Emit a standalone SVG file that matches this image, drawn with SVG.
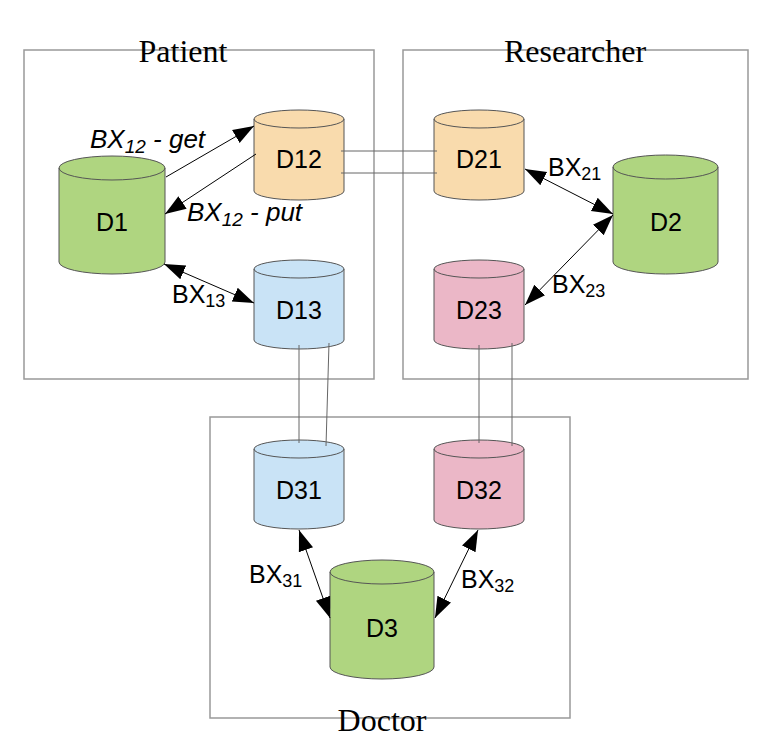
<svg xmlns="http://www.w3.org/2000/svg" width="782" height="748" viewBox="0 0 782 748">
<style>
.box{fill:none;stroke:#999;stroke-width:1.5}
.title{font-family:"Liberation Serif",serif;font-size:32px;fill:#000;text-anchor:middle}
.cyl{stroke:#555;stroke-width:1}
.rim{stroke:#555;stroke-width:1;fill:none}
.green{fill:#afd580}.orange{fill:#f9dbad}.blue{fill:#c9e3f6}.pink{fill:#ebb7c7}
.lbl{font-family:"Liberation Sans",Arial,sans-serif;font-size:25px;fill:#000;text-anchor:middle}
.bx{font-family:"Liberation Sans",Arial,sans-serif;font-size:25px;fill:#000}
.it{font-style:italic;font-size:26px}
.sub{font-size:18px}
.it .sub{font-size:19px}
.link{stroke:#666;stroke-width:1;fill:none}
.arr{stroke:#000;stroke-width:1;fill:none}
</style>
<defs>
<marker id="ah" markerUnits="userSpaceOnUse" markerWidth="22" markerHeight="18" viewBox="0 0 22 18" refX="21" refY="9" orient="auto-start-reverse">
<path d="M0,1.5 L21,9 L0,16.5 z" fill="#000"/>
</marker>
</defs>
<rect width="782" height="748" fill="#fff"/>
<g id="patient">
<rect class="box" x="24" y="50" width="350" height="329"/>
<text class="title" x="183" y="62">Patient</text>
</g>
<g id="researcher">
<rect class="box" x="403" y="50" width="345" height="329"/>
<text class="title" x="575" y="62">Researcher</text>
</g>
<g id="doctor">
<rect class="box" x="210" y="417" width="360" height="301"/>
<text class="title" x="382" y="731">Doctor</text>
</g>
<g id="D1">
<path class="cyl green" d="M59,168 a53,12 0 0 1 106,0 v94 a53,12 0 0 1 -106,0 z"/>
<path class="rim" d="M59,168 a53,12 0 0 0 106,0"/>
<text class="lbl" x="112" y="231">D1</text>
</g>
<g id="D2">
<path class="cyl green" d="M613,167 a52.5,12 0 0 1 105,0 v95 a52.5,12 0 0 1 -105,0 z"/>
<path class="rim" d="M613,167 a52.5,12 0 0 0 105,0"/>
<text class="lbl" x="666" y="231">D2</text>
</g>
<g id="D3">
<path class="cyl green" d="M330,572 a52,12 0 0 1 104,0 v95 a52,12 0 0 1 -104,0 z"/>
<path class="rim" d="M330,572 a52,12 0 0 0 104,0"/>
<text class="lbl" x="382" y="637">D3</text>
</g>
<g id="D12">
<path class="cyl orange" d="M254,119 a45,9 0 0 1 90,0 v72 a45,9 0 0 1 -90,0 z"/>
<path class="rim" d="M254,119 a45,9 0 0 0 90,0"/>
<text class="lbl" x="299" y="168">D12</text>
</g>
<g id="D13">
<path class="cyl blue" d="M254,269 a45,9 0 0 1 90,0 v71 a45,9 0 0 1 -90,0 z"/>
<path class="rim" d="M254,269 a45,9 0 0 0 90,0"/>
<text class="lbl" x="299" y="319">D13</text>
</g>
<g id="D21">
<path class="cyl orange" d="M434,119 a45,9 0 0 1 90,0 v72 a45,9 0 0 1 -90,0 z"/>
<path class="rim" d="M434,119 a45,9 0 0 0 90,0"/>
<text class="lbl" x="479" y="168">D21</text>
</g>
<g id="D23">
<path class="cyl pink" d="M434,269 a45,9 0 0 1 90,0 v71 a45,9 0 0 1 -90,0 z"/>
<path class="rim" d="M434,269 a45,9 0 0 0 90,0"/>
<text class="lbl" x="479" y="319">D23</text>
</g>
<g id="D31">
<path class="cyl blue" d="M254,449 a45,9 0 0 1 90,0 v71 a45,9 0 0 1 -90,0 z"/>
<path class="rim" d="M254,449 a45,9 0 0 0 90,0"/>
<text class="lbl" x="299" y="499">D31</text>
</g>
<g id="D32">
<path class="cyl pink" d="M434,449 a45,9 0 0 1 90,0 v71 a45,9 0 0 1 -90,0 z"/>
<path class="rim" d="M434,449 a45,9 0 0 0 90,0"/>
<text class="lbl" x="479" y="499">D32</text>
</g>
<g id="connectors">
<line class="link" x1="341" y1="151" x2="437" y2="151"/>
<line class="link" x1="341" y1="173" x2="437" y2="173"/>
<line class="link" x1="299" y1="345" x2="299" y2="443"/>
<line class="link" x1="329" y1="343" x2="326" y2="446"/>
<line class="link" x1="479" y1="345" x2="479" y2="443"/>
<line class="link" x1="512" y1="343" x2="512" y2="446"/>
<line class="arr" x1="166" y1="177" x2="254" y2="126" marker-end="url(#ah)"/>
<line class="arr" x1="256" y1="154" x2="165" y2="214" marker-end="url(#ah)"/>
<line class="arr" x1="164" y1="264" x2="254" y2="303" marker-start="url(#ah)" marker-end="url(#ah)"/>
<line class="arr" x1="525" y1="169" x2="613" y2="214" marker-start="url(#ah)" marker-end="url(#ah)"/>
<line class="arr" x1="613" y1="215" x2="525" y2="305" marker-start="url(#ah)" marker-end="url(#ah)"/>
<line class="arr" x1="299" y1="530" x2="330" y2="618" marker-start="url(#ah)" marker-end="url(#ah)"/>
<line class="arr" x1="478" y1="530" x2="435" y2="618" marker-start="url(#ah)" marker-end="url(#ah)"/>
</g>
<g id="labels">
<text class="bx it" x="90" y="148">BX<tspan class="sub" dy="5">12</tspan><tspan dy="-5"> - get</tspan></text>
<text class="bx it" x="187" y="221">BX<tspan class="sub" dy="5">12</tspan><tspan dy="-5"> - put</tspan></text>
<text class="bx" x="172" y="303">BX<tspan class="sub" dy="4">13</tspan></text>
<text class="bx" x="548" y="176">BX<tspan class="sub" dy="4">21</tspan></text>
<text class="bx" x="552" y="293">BX<tspan class="sub" dy="4">23</tspan></text>
<text class="bx" x="249" y="583">BX<tspan class="sub" dy="4">31</tspan></text>
<text class="bx" x="461" y="588">BX<tspan class="sub" dy="4">32</tspan></text>
</g>
</svg>
